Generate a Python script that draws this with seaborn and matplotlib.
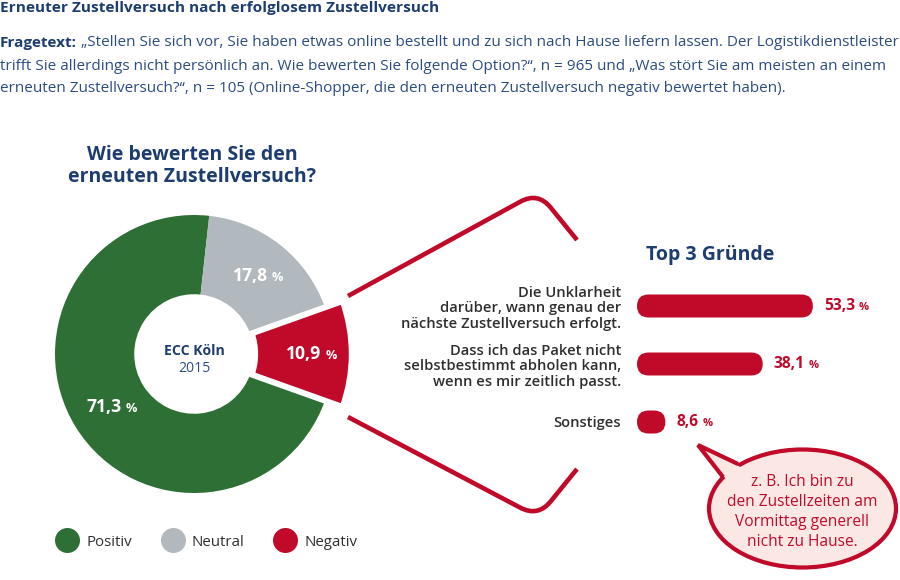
import numpy as np
import pandas as pd
import matplotlib
matplotlib.use("Agg")
import matplotlib.pyplot as plt
import seaborn as sns
from matplotlib.patches import FancyBboxPatch, Ellipse, Polygon, PathPatch
from matplotlib.path import Path
from matplotlib.lines import Line2D
from matplotlib import font_manager

# ---------------- data ----------------
title = "Erneuter Zustellversuch nach erfolglosem Zustellversuch"
question_lines = [
    "„Stellen Sie sich vor, Sie haben etwas online bestellt und zu sich nach Hause liefern lassen. Der Logistikdienstleister",
    "trifft Sie allerdings nicht persönlich an. Wie bewerten Sie folgende Option?“, n = 965 und „Was stört Sie am meisten an einem",
    "erneuten Zustellversuch?“, n = 105 (Online-Shopper, die den erneuten Zustellversuch negativ bewertet haben).",
]
donut_title = ["Wie bewerten Sie den", "erneuten Zustellversuch?"]
center_label = ["ECC Köln", "2015"]
rating_labels = ["Positiv", "Neutral", "Negativ"]
rating_values = [71.3, 17.8, 10.9]
rating_colors = ["#2e6f35", "#b1b9be", "#c10a29"]
reasons_title = "Top 3 Gründe"
reason_labels = [
    "Die Unklarheit\ndarüber, wann genau der\nnächste Zustellversuch erfolgt.",
    "Dass ich das Paket nicht\nselbstbestimmt abholen kann,\nwenn es mir zeitlich passt.",
    "Sonstiges",
]
reason_values = [53.3, 38.1, 8.6]
bubble_lines = ["z. B. Ich bin zu", "den Zustellzeiten am", "Vormittag generell", "nicht zu Hause."]

RED = "#c10a29"
NAVY = "#1d3d70"
BLUE = "#2b4c82"
DARK = "#2e2e2e"
PINK = "#fbe8e5"

sns.set_theme(style="white")
installed = {f.name for f in font_manager.fontManager.ttflist}
BASE = "Open Sans" if "Open Sans" in installed else "DejaVu Sans"
NARROW = "Liberation Sans Narrow" if "Liberation Sans Narrow" in installed else BASE
plt.rcParams["font.family"] = [BASE, "DejaVu Sans"]

W, H = 900, 580
fig = plt.figure(figsize=(9, 5.8), dpi=100)
fig.patch.set_facecolor("white")


def pt(px):
    return px * 0.72


# overlay axes in pixel coordinates (texts, brackets, bubble)
ax_o = fig.add_axes([0, 0, 1, 1])
ax_o.set_xlim(0, W)
ax_o.set_ylim(H, 0)
ax_o.axis("off")
ax_o.patch.set_alpha(0)

renderer = fig.canvas.get_renderer()


def width_px(t):
    return t.get_window_extent(renderer=renderer).width


# ---------- header ----------
HF = [NARROW, "DejaVu Sans"]
t_title = ax_o.text(0, 8, title, fontsize=pt(15), fontweight="bold", color=NAVY,
                    ha="left", va="center", family=HF)
t_title.set_fontsize(t_title.get_fontsize() * 437 / width_px(t_title))

t_lbl = ax_o.text(0, 43, "Fragetext:", fontsize=pt(15), fontweight="bold", color=NAVY,
                  ha="left", va="center", family=HF)
t1 = ax_o.annotate(" " + question_lines[0], xy=(1, 0.5), xycoords=t_lbl, ha="left", va="center",
                   fontsize=pt(15), color=BLUE, family=HF)
t2 = ax_o.text(0, 66, question_lines[1], fontsize=pt(15), color=BLUE, ha="left", va="center", family=HF)
t3 = ax_o.text(0, 88, question_lines[2], fontsize=pt(15), color=BLUE, ha="left", va="center", family=HF)
f_a = 896 / width_px(t2)
f_b = 896 / (width_px(t_lbl) + width_px(t1))
fs_hdr = pt(15) * min(f_a, f_b)
for t in (t_lbl, t1, t2, t3):
    t.set_fontsize(fs_hdr)

# ---------- donut ----------
ax_o.text(192, 155, donut_title[0], fontsize=pt(19.5), fontweight="bold", color=NAVY, ha="center", va="center")
ax_o.text(192, 177, donut_title[1], fontsize=pt(19.5), fontweight="bold", color=NAVY, ha="center", va="center")

R = 139
cx, cy = 194, 354
lim = 1.25
size = 2 * lim * R
ax_pie = fig.add_axes([(cx - size / 2) / W, (H - cy - size / 2) / H, size / W, size / H])
start = 360 - rating_values[2] * 3.6 / 2
wedges, _ = ax_pie.pie(rating_values, colors=rating_colors, startangle=start, counterclock=False,
                       radius=1.0, wedgeprops=dict(width=0.57, linewidth=0))
neg = wedges[2]
neg.set_radius(1.135)
neg.set_width(0.695)
neg.set_edgecolor("white")
neg.set_linewidth(4.3)
neg.set_zorder(3)
ax_pie.set_xlim(-lim, lim)
ax_pie.set_ylim(-lim, lim)
ax_pie.patch.set_alpha(0)


def pct_label(ax, xy, value, fs, color, ha="left", xycoords="data", offset=(0, 0)):
    num = f"{value:.1f}".replace(".", ",")
    t = ax.annotate(num, xy=xy, xycoords=xycoords, xytext=offset, textcoords="offset points",
                    ha=ha, va="center", fontsize=fs, fontweight="bold", color=color, zorder=5)
    ax.annotate("%", xy=(1, 0), xycoords=t, xytext=(fs * 0.25, 0.5), textcoords="offset points",
                ha="left", va="bottom", fontsize=fs * 0.72, fontweight="bold", color=color, zorder=5)
    return t


label_r = [0.715, 0.72, 0.835]
for w, v, r in zip(wedges, rating_values, label_r):
    ang = np.deg2rad((w.theta1 + w.theta2) / 2)
    pct_label(ax_pie, (r * np.cos(ang), r * np.sin(ang)), v, pt(17.5), "white", ha="center",
              offset=(-pt(6), 0))

ax_pie.text(0, 0.022, center_label[0], fontsize=pt(14), fontweight="bold", color=NAVY, ha="center", va="center")
ax_pie.text(0, -0.105, center_label[1], fontsize=pt(14), color=BLUE, ha="center", va="center")

# legend
handles = [Line2D([], [], marker="o", linestyle="", markersize=pt(25), markerfacecolor=c,
                  markeredgewidth=0, label=l) for c, l in zip(rating_colors, rating_labels)]
fs_leg = pt(15)
fig.legend(handles=handles, loc="center left", bbox_to_anchor=(55 / W, (H - 542) / H), ncol=3,
           frameon=False, fontsize=fs_leg, labelcolor=DARK, handlelength=24 / 15,
           handletextpad=7 / 15, columnspacing=29 / 15, borderpad=0, borderaxespad=0)

# ---------- brackets ----------
def bracket(p0, apex, p1, k=20):
    p0, apex, p1 = map(np.array, (p0, apex, p1))
    din = (apex - p0) / np.linalg.norm(apex - p0)
    dout = (p1 - apex) / np.linalg.norm(p1 - apex)
    a = apex - k * din
    b = apex + k * dout
    path = Path([p0, a, apex, b, p1],
                [Path.MOVETO, Path.LINETO, Path.CURVE3, Path.CURVE3, Path.LINETO])
    ax_o.add_patch(PathPatch(path, facecolor="none", edgecolor=RED, lw=pt(4.6),
                             capstyle="butt", joinstyle="round"))


bracket((348, 296), (538, 192), (577, 240))
bracket((348, 417), (538, 517), (577, 469))

# ---------- bars ----------
x0 = 637
ppu = 3.3
xmax = 80
row = 58
top = 306 - row / 2
ax_bar = fig.add_axes([x0 / W, (H - top - 3 * row) / H, xmax * ppu / W, 3 * row / H])
df = pd.DataFrame({"Grund": reason_labels, "Anteil": reason_values})
sns.barplot(data=df, x="Anteil", y="Grund", ax=ax_bar, color=RED, width=23 / row, orient="h",
            saturation=1)
ax_bar.set_xlim(0, xmax)
ax_bar.set_ylim(2.5, -0.5)
ax_bar.set_xlabel("")
ax_bar.set_ylabel("")
ax_bar.set_xticks([])
for s in ax_bar.spines.values():
    s.set_visible(False)
ax_bar.patch.set_alpha(0)
ax_bar.tick_params(axis="y", length=0, pad=pt(16))
for lbl in ax_bar.get_yticklabels():
    lbl.set_fontsize(pt(14.8))
    lbl.set_fontweight("semibold")
    lbl.set_color(DARK)
    lbl.set_linespacing(1.18)
    lbl.set_multialignment("right")

sx = ax_bar.transData.transform((1, 0))[0] - ax_bar.transData.transform((0, 0))[0]
sy = abs(ax_bar.transData.transform((0, 1))[1] - ax_bar.transData.transform((0, 0))[1])
for p in list(ax_bar.patches):
    x, y, w, h = p.get_x(), p.get_y(), p.get_width(), p.get_height()
    r_px = abs(h) * sy / 2
    fb = FancyBboxPatch((x, y), w, h, boxstyle=f"round,pad=0,rounding_size={r_px / sx}",
                        mutation_aspect=sx / sy, facecolor=RED, edgecolor="none")
    p.set_visible(False)
    ax_bar.add_patch(fb)

for i, v in enumerate(reason_values):
    pct_label(ax_bar, (v, i), v, pt(15.5), RED, ha="left", offset=(pt(11), 0))

ax_o.text(646, 255, reasons_title, fontsize=pt(19.5), fontweight="bold", color=NAVY, ha="left", va="center")

# ---------- speech bubble ----------
ax_o.add_patch(Ellipse((802.5, 508.5), 187, 118, facecolor=PINK, edgecolor=RED, lw=pt(4.2), zorder=2))
ax_o.add_patch(Polygon([(698, 445), (746, 470), (731, 485)], closed=True, facecolor=PINK,
                       edgecolor="none", zorder=3))
ax_o.plot([738, 698, 723], [464, 445, 477], color=RED, lw=pt(4.2), solid_joinstyle="miter",
          solid_capstyle="butt", zorder=4)
for k, line in enumerate(bubble_lines):
    ax_o.text(802, 482 + 20 * k, line, fontsize=pt(15.5), color=RED, ha="center", va="center", zorder=5)

fig.savefig("out.png", dpi=100, facecolor="white")
